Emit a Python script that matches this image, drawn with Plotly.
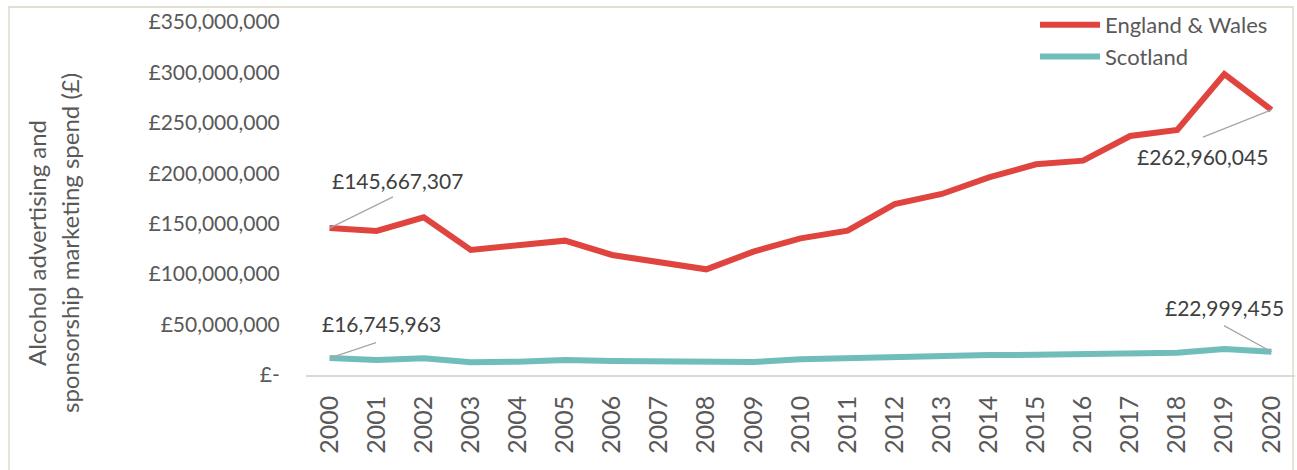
import plotly.graph_objects as go

years = [str(y) for y in range(2000, 2021)]
england_wales = [145667307, 142800000, 156300000, 124000000, 128600000, 133200000,
                 119000000, 112300000, 104800000, 122300000, 135500000, 143100000,
                 169500000, 179500000, 196000000, 208900000, 212500000, 237000000,
                 243000000, 298400000, 262960045]
scotland = [16745963, 14900000, 16500000, 12600000, 13200000, 14900000,
            13900000, 13600000, 12200000, 12900000, 15500000, 16500000,
            18500000, 18800000, 19800000, 20000000, 21100000, 22100000,
            22000000, 25800000, 22999455]
y_tickvals = [0, 50000000, 100000000, 150000000, 200000000, 250000000, 300000000, 350000000]
y_ticktext = ["£-", "£50,000,000", "£100,000,000", "£150,000,000", "£200,000,000",
              "£250,000,000", "£300,000,000", "£350,000,000"]
y_title = ["Alcohol advertising and", "sponsorship marketing spend (£)"]

RED = "#E0443F"
TEAL = "#71BDBA"
GREY = "#595959"
FONT = "Lato"

W, H = 1297, 470
L, R, T, B = 306, 2, 22, 95
pw, ph = W - L - R, H - T - B

def px_x(p):
    return (p - L) / pw

def px_y(p):
    return (H - B - p) / ph

fig = go.Figure()
fig.add_trace(go.Scatter(x=years, y=england_wales, mode="lines", name="England & Wales",
                         line=dict(color=RED, width=6), legendgroup="a"))
fig.add_trace(go.Scatter(x=years, y=scotland, mode="lines", name="Scotland",
                         line=dict(color=TEAL, width=6), legendgroup="b"))

def label(i, series, ax, ay, xs, ys):
    v = series[i]
    # leader line
    fig.add_annotation(x=i, y=v, xref="x", yref="y", text="", showarrow=True,
                       arrowhead=0, arrowwidth=1.3, arrowcolor="#A6A6A6",
                       ax=ax, ay=ay, standoff=0, startstandoff=0)
    # value text
    fig.add_annotation(x=i, y=v, xref="x", yref="y", text="£{:,}".format(v),
                       showarrow=False, xshift=xs, yshift=ys,
                       xanchor="center", yanchor="middle",
                       font=dict(family=FONT, size=21, color="#404040"))

label(0, england_wales, 65, -32, 67.5, 48)
label(0, scotland, 48, -16, 51.5, 35)
label(20, england_wales, -70, 28, -68.5, -47)
label(20, scotland, -49, -27, -46.5, 44)

fig.add_annotation(xref="paper", yref="paper", x=px_x(36), y=px_y(243), text=y_title[0],
                   textangle=-90, showarrow=False, xanchor="center", yanchor="middle",
                   font=dict(family=FONT, size=24, color=GREY))
fig.add_annotation(xref="paper", yref="paper", x=px_x(69), y=px_y(243), text=y_title[1],
                   textangle=-90, showarrow=False, xanchor="center", yanchor="middle",
                   font=dict(family=FONT, size=24, color=GREY))

fig.add_shape(type="rect", xref="paper", yref="paper",
              x0=px_x(9), x1=px_x(1293), y0=px_y(480), y1=px_y(7),
              line=dict(color="#D9D4C3", width=1.3), layer="below")

fig.update_layout(
    width=W, height=H,
    margin=dict(l=L, r=R, t=T, b=B),
    paper_bgcolor="white", plot_bgcolor="white",
    font=dict(family=FONT, size=21, color=GREY),
    showlegend=True,
    legend=dict(x=px_x(1035), y=px_y(4), xanchor="left", yanchor="top",
                bgcolor="rgba(0,0,0,0)", font=dict(family=FONT, size=22, color=GREY),
                tracegroupgap=0, itemwidth=60),
    xaxis=dict(type="category", range=[-0.5, 20.5], tickangle=-90,
               showline=True, linecolor="#D9D9D9", linewidth=1.5,
               showgrid=False, zeroline=False, ticks="outside", ticklen=9,
               tickcolor="rgba(0,0,0,0)", tickfont=dict(family=FONT, size=25, color=GREY)),
    yaxis=dict(range=[0, 350000000], tickvals=y_tickvals, ticktext=y_ticktext,
               showgrid=False, zeroline=False, showline=False, ticks="outside",
               ticklen=21, tickcolor="rgba(0,0,0,0)",
               tickfont=dict(family=FONT, size=21, color=GREY)),
)

fig.write_html("out.html")
